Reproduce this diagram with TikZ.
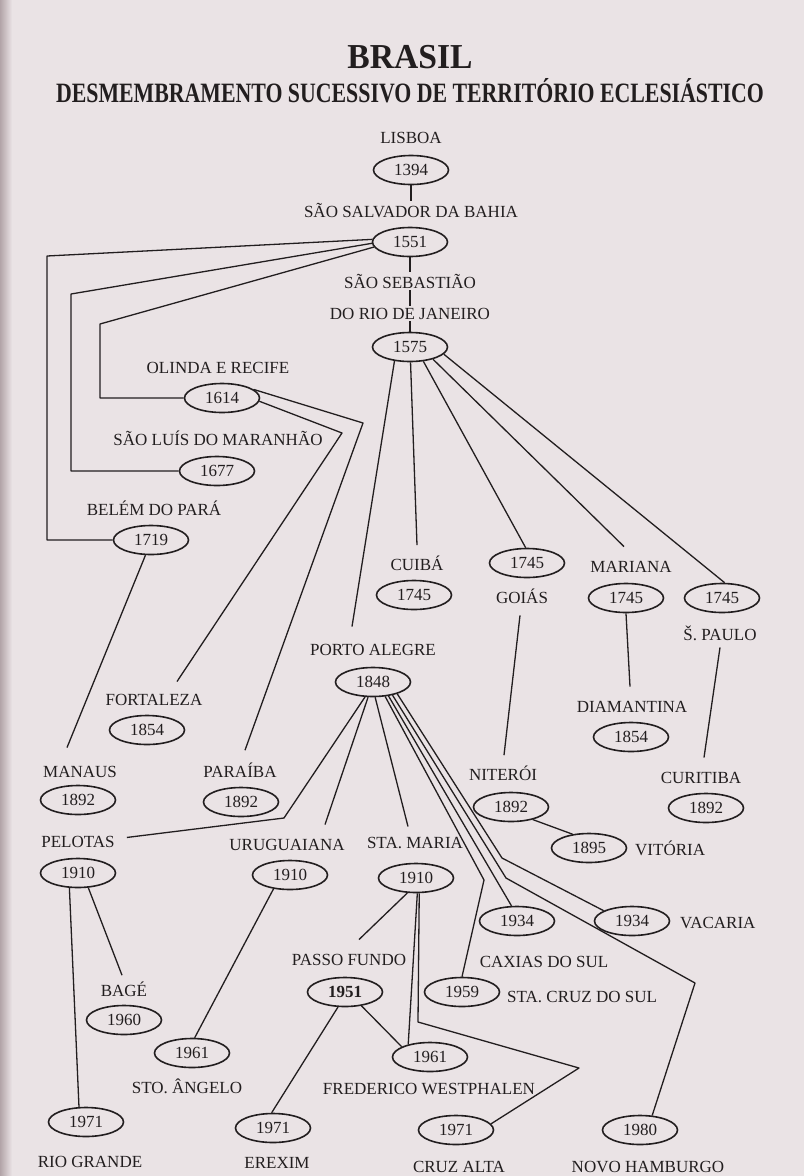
\documentclass[tikz,border=0pt]{standalone}
\usepackage{fontspec}
\setmainfont{Liberation Serif}
\usetikzlibrary{shapes.geometric,calc}
\definecolor{paper}{RGB}{234,227,229}
\definecolor{edge}{RGB}{178,164,168}
\definecolor{ink}{RGB}{34,30,31}
\tikzset{
  yr/.style={draw=ink, line width=1.6pt, ellipse, minimum width=75pt, minimum height=29pt,
             inner sep=0pt, font=\fontsize{17}{17}\selectfont, text=ink},
  lab/.style={font=\fontsize{17}{17}\selectfont, text=ink, inner sep=2pt, anchor=base},
  conn/.style={draw=ink, line width=1.3pt, line join=round},
}
\begin{document}
\begin{tikzpicture}[x=1pt,y=-1pt]
\useasboundingbox (0,0) rectangle (804,1176);
\fill[paper] (0,0) rectangle (804,1176);
\shade[left color=edge, right color=paper] (0,0) rectangle (12,1176);

% titles
\node[anchor=base, text=ink, font=\bfseries\fontsize{35}{35}\selectfont] (title) at (410,68) {\scalebox{0.96}[1]{BRASIL}};
\node[anchor=base, text=ink, font=\bfseries\fontsize{28}{28}\selectfont] (subtitle) at (410,102) {\scalebox{0.78}[1]{DESMEMBRAMENTO SUCESSIVO DE TERRITÓRIO ECLESIÁSTICO}};

% labels
\node[lab] (lLisboa) at (411,143) {LISBOA};
\node[lab] (lSalvador) at (411,217) {SÃO SALVADOR DA BAHIA};
\node[lab] (lSebastiao) at (410,288) {SÃO SEBASTIÃO};
\node[lab] (lRio) at (410,319) {DO RIO DE JANEIRO};
\node[lab] (lOlinda) at (218,373) {OLINDA E RECIFE};
\node[lab] (lSaoLuis) at (218,445) {SÃO LUÍS DO MARANHÃO};
\node[lab] (lBelem) at (154,515) {BELÉM DO PARÁ};
\node[lab] (lCuiaba) at (417,570) {CUIBÁ};
\node[lab] (lMariana) at (631,572) {MARIANA};
\node[lab] (lGoias) at (522,603) {GOIÁS};
\node[lab] (lSPaulo) at (720,640) {Š. PAULO};
\node[lab] (lPortoAlegre) at (373,655) {PORTO ALEGRE};
\node[lab] (lFortaleza) at (154,705) {FORTALEZA};
\node[lab] (lDiamantina) at (632,712) {DIAMANTINA};
\node[lab] (lManaus) at (80,777) {MANAUS};
\node[lab] (lParaiba) at (240,777) {PARAÍBA};
\node[lab] (lNiteroi) at (503,780) {NITERÓI};
\node[lab] (lCuritiba) at (701,783) {CURITIBA};
\node[lab] (lPelotas) at (78,847) {PELOTAS};
\node[lab] (lUrug) at (287,850) {URUGUAIANA};
\node[lab] (lSMaria) at (415,848) {STA. MARIA};
\node[lab, anchor=base west] (lVitoria) at (633,855) {VITÓRIA};
\node[lab, anchor=base west] (lVacaria) at (678,928) {VACARIA};
\node[lab] (lPFundo) at (349,965) {PASSO FUNDO};
\node[lab] (lCaxias) at (544,967) {CAXIAS DO SUL};
\node[lab, anchor=base west] (lSCruz) at (505,1002) {STA. CRUZ DO SUL};
\node[lab] (lBage) at (124,996) {BAGÉ};
\node[lab] (lSAngelo) at (187,1093) {STO. ÂNGELO};
\node[lab] (lFW) at (429,1094) {FREDERICO WESTPHALEN};
\node[lab] (lRioGrande) at (90,1167) {RIO GRANDE};
\node[lab] (lErexim) at (277,1168) {EREXIM};
\node[lab] (lCruzAlta) at (459,1172) {CRUZ ALTA};
\node[lab] (lNovoH) at (648,1172) {NOVO HAMBURGO};

% year ellipses
\node[yr] (y1394) at (411,170) {1394};
\node[yr] (y1551) at (410,242) {1551};
\node[yr] (y1575) at (410,347) {1575};
\node[yr] (y1614) at (222,398) {1614};
\node[yr] (y1677) at (217,471) {1677};
\node[yr] (y1719) at (151,540) {1719};
\node[yr] (yCuiaba) at (414,595) {1745};
\node[yr] (yGoias) at (527,563) {1745};
\node[yr] (yMariana) at (626,598) {1745};
\node[yr] (ySPaulo) at (722,598) {1745};
\node[yr] (y1848) at (373,682) {1848};
\node[yr] (yFortaleza) at (147,730) {1854};
\node[yr] (yDiamantina) at (631,737) {1854};
\node[yr] (yManaus) at (78,800) {1892};
\node[yr] (yParaiba) at (241,802) {1892};
\node[yr] (yNiteroi) at (511,807) {1892};
\node[yr] (yCuritiba) at (706,808) {1892};
\node[yr] (yVitoria) at (589,848) {1895};
\node[yr] (yPelotas) at (78,873) {1910};
\node[yr] (yUrug) at (290,875) {1910};
\node[yr] (ySMaria) at (416,878) {1910};
\node[yr] (yCaxias) at (517,921) {1934};
\node[yr] (yVacaria) at (632,921) {1934};
\node[yr, font=\bfseries\fontsize{17}{17}\selectfont] (yPFundo) at (345,992) {1951};
\node[yr] (ySCruz) at (462,992) {1959};
\node[yr] (yBage) at (124,1020) {1960};
\node[yr] (ySAngelo) at (192,1053) {1961};
\node[yr] (yFW) at (430,1057) {1961};
\node[yr] (yRioGrande) at (86,1122) {1971};
\node[yr] (yErexim) at (273,1128) {1971};
\node[yr] (yCruzAlta) at (456,1130) {1971};
\node[yr] (yNovoH) at (640,1130) {1980};

% main chain
\draw[conn] (y1394.south) -- (lSalvador.north);
\draw[conn] (y1551.south) -- (lSebastiao.north);
\draw[conn] (lSebastiao.south) -- (lRio.north);
\draw[conn] (lRio.south) -- (y1575.north);

% from 1551
\draw[conn] (y1551.176) -- (47,256) -- (47,540) -- (y1719.west);
\draw[conn] (y1551.182) -- (71,294) -- (71,471) -- (y1677.west);
\draw[conn] (y1551.188) -- (100,324) -- (100,398) -- (y1614.west);

% from 1614
\draw[conn] (y1614.15) -- (363,423) -- ($(lParaiba.north)+(5,-10)$);
\draw[conn] (y1614.-5) -- (342,433) -- ($(lFortaleza.north)+(23,-10)$);

% from 1719
\draw[conn] (y1719.-110) -- ($(lManaus.north)+(-13,-16)$);

% from 1575
\draw[conn] (y1575.-138) -- ($(lPortoAlegre.north)+(-21,-15)$);
\draw[conn] (y1575.-88) -- ($(lCuiaba.north)+(0,-8)$);
\draw[conn] (y1575.-47) -- (yGoias.95);
\draw[conn] (y1575.-28) -- ($(lMariana.north)+(-7,-12)$);
\draw[conn] (y1575.-12) -- (ySPaulo.80);

% 1745 children
\draw[conn] ($(lGoias.south)+(-2,10)$) -- ($(lNiteroi.north)+(1,-8)$);
\draw[conn] (yMariana.south) -- ($(lDiamantina.north)+(-2,-12)$);
\draw[conn] ($(lSPaulo.south)+(0,5)$) -- ($(lCuritiba.north)+(3,-12)$);
\draw[conn] (yNiteroi.-30) -- (yVitoria.140);

% from 1848
\draw[conn] (y1848.-118) -- (284,818) -- ($(lPelotas.east)+(10,-4)$);
\draw[conn] (y1848.-108) -- ($(lUrug.north)+(38,-12)$);
\draw[conn] (y1848.-82) -- ($(lSMaria.north)+(-7,-8)$);
\draw[conn] (y1848.-50) -- (484,880) -- (ySCruz.north);
\draw[conn] (y1848.-42) -- (yCaxias.110);
\draw[conn] (y1848.-34) -- (506,878) -- (695,983) -- (yNovoH.50);
\draw[conn] (y1848.-26) -- (502,858) -- (yVacaria.160);

% 1910 children
\draw[conn] (yPelotas.-120) -- (yRioGrande.115);
\draw[conn] (yPelotas.-55) -- ($(lBage.north)+(-2,-4)$);
\draw[conn] (yUrug.-140) -- (ySAngelo.80);
\draw[conn] (ySMaria.-120) -- ($(lPFundo.north)+(10,-12)$);
\draw[conn] (ySMaria.-85) -- (yFW.150);
\draw[conn] (ySMaria.-78) -- (418,1022) -- (579,1068) -- (yCruzAlta.10);

% 1951 children
\draw[conn] (yPFundo.-40) -- (yFW.160);
\draw[conn] (yPFundo.-115) -- (yErexim.95);
\end{tikzpicture}
\end{document}
